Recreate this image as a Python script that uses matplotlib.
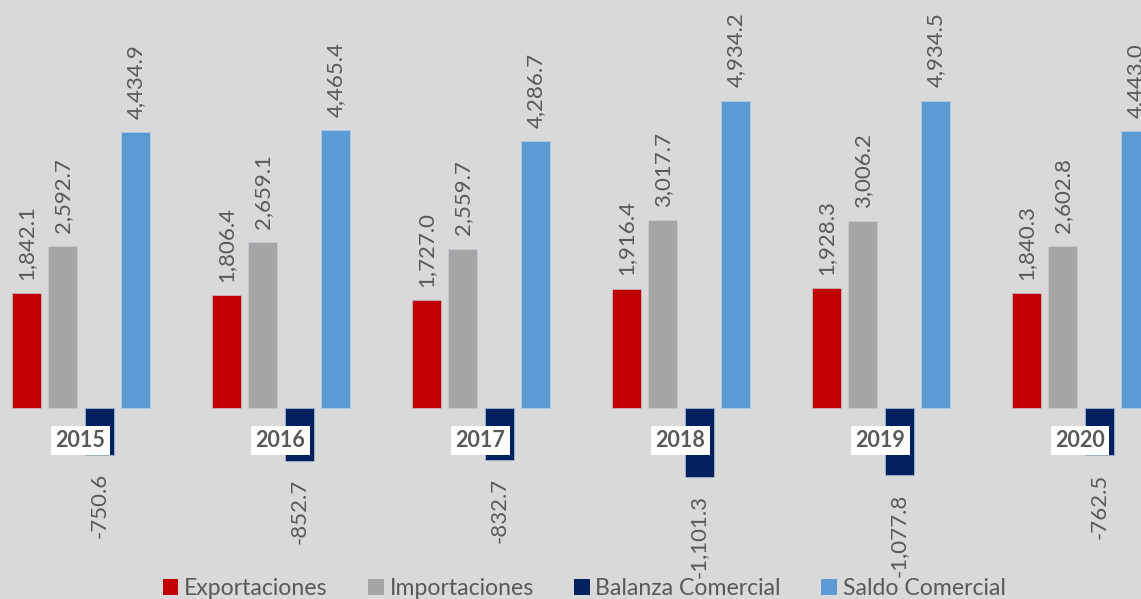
import matplotlib.pyplot as plt
from matplotlib.patches import Patch

# datos
years = ['2015', '2016', '2017', '2018', '2019', '2020']
exportaciones = [1842.1, 1806.4, 1727.0, 1916.4, 1928.3, 1840.3]
importaciones = [2592.7, 2659.1, 2559.7, 3017.7, 3006.2, 2602.8]
balanza = [-750.6, -852.7, -832.7, -1101.3, -1077.8, -762.5]
saldo = [4434.9, 4465.4, 4286.7, 4934.2, 4934.5, 4443.0]

names = ['Exportaciones', 'Importaciones', 'Balanza Comercial', 'Saldo Comercial']
colors = ['#c00000', '#a5a5a5', '#002060', '#5b9bd5']
series = [exportaciones, importaciones, balanza, saldo]

plt.rcParams['font.family'] = ['Lato', 'DejaVu Sans']
TXT = '#595959'
BG = '#d9d9d9'

fig = plt.figure(figsize=(11.41, 5.99), dpi=100)
fig.patch.set_facecolor(BG)
ax = fig.add_axes([0, 0, 1, 1])
ax.set_facecolor(BG)

step = 0.182
width = 0.145
offsets = [-1.5, -0.5, 0.5, 1.5]

for k in range(4):
   xs = [i + offsets[k] * step for i in range(len(years))]
   ax.bar(xs, series[k], width=width, color=colors[k], edgecolor='#c8d4e6', linewidth=0.4, zorder=2)
   for x, v in zip(xs, series[k]):
      if v >= 0:
         ax.annotate('{:,.1f}'.format(v), xy=(x, v), xytext=(0, 9.5), textcoords='offset points',
                     rotation=90, ha='center', va='bottom', fontsize=16, color=TXT)
      else:
         ax.annotate('{:,.1f}'.format(v), xy=(x, v), xytext=(0, -13), textcoords='offset points',
                     rotation=90, ha='center', va='top', fontsize=16, color=TXT)

for i, y in enumerate(years):
   ax.annotate(y, xy=(i, 0), xytext=(-0.5, -23.5), textcoords='offset points', ha='center', va='center',
               fontsize=15.5, fontweight='bold', color=TXT, zorder=5,
               bbox=dict(boxstyle='square,pad=0.2', fc='white', ec='none'))

ax.set_xlim(-0.405, 5.3)
ax.set_ylim(-3066, 6549)
ax.axis('off')

handles = [Patch(facecolor=c, edgecolor='none') for c in colors]
fig.legend(handles, names, loc='center', bbox_to_anchor=(0.512, 0.018), ncol=4, frameon=False,
           fontsize=16.6, labelcolor=TXT, handlelength=0.68, handleheight=0.68, handletextpad=0.25,
           columnspacing=1.75, borderpad=0)

fig.savefig('out.png', dpi=100, facecolor=BG)
